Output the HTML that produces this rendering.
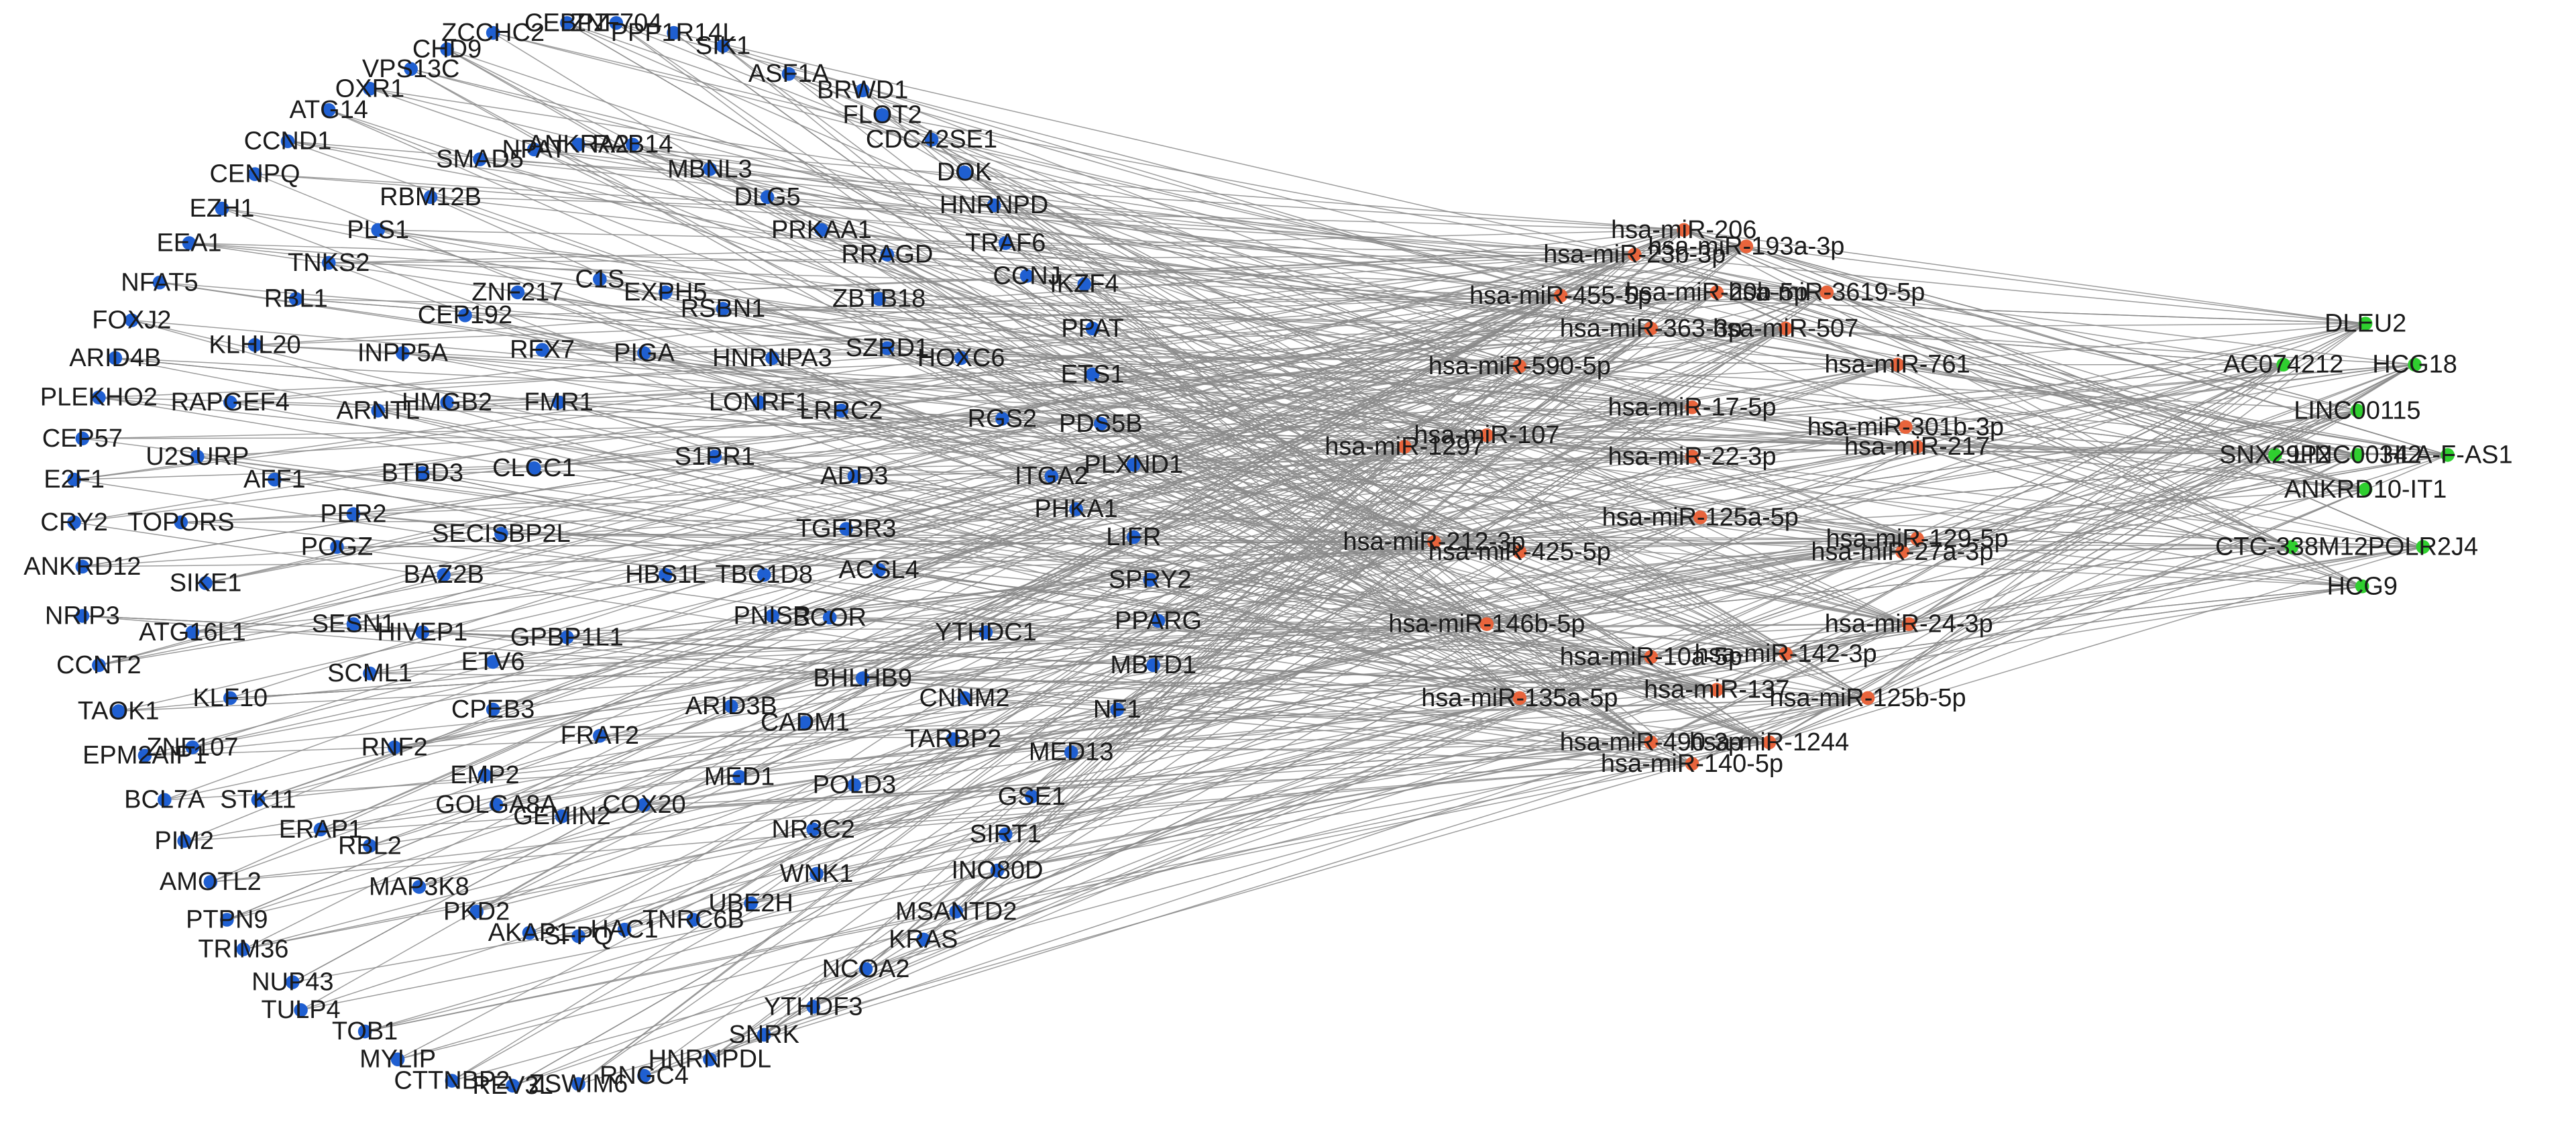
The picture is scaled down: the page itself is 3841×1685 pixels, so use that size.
<!DOCTYPE html>
<html><head><meta charset="utf-8"><style>
html,body{margin:0;padding:0;background:#fff;}
svg{display:block}
text{font-family:"Liberation Sans",Arial,sans-serif;font-size:15.5px;fill:#1a1a1a;text-anchor:middle;dominant-baseline:central}
</style></head><body>
<svg id="s" width="3841" height="1685" viewBox="0 0 1568 688" xmlns="http://www.w3.org/2000/svg">
<g id="edges" stroke="#8a8a8a" stroke-width="0.6" stroke-opacity="0.85" fill="none"></g>
<g id="nodes"></g>
</svg>
<script>
var genes=[["ZCCHC2",300,20],["CEBPZ",345,14],["ZNF704",375,14],["PPP1R14L",410,20],["SIK1",440,28],["CHD9",272,30],["VPS13C",250,42],["OXR1",225,54],["ATG14",200,67],["CCND1",175,86],["CENPQ",155,106],["EZH1",135,127],["EEA1",115,148],["NFAT5",97,172],["FOXJ2",80,195],["ARID4B",70,218],["PLEKHO2",60,242],["CEP57",50,267],["E2F1",45,292],["CRY2",45,318],["ANKRD12",50,345],["NRIP3",50,375],["CCNT2",60,405],["TAOK1",72,433],["EPM2AIP1",88,460],["BCL7A",100,487],["PIM2",112,512],["AMOTL2",128,537],["PTPN9",138,560],["TRIM36",148,578],["NUP43",178,598],["TULP4",183,615],["TOB1",222,628],["MYLIP",242,645],["CTTNBP2",275,658],["REV3L",312,661],["ZSWIM6",352,660],["RNGC4",392,655],["HNRNPDL",432,645],["SNRK",465,630],["YTHDF3",495,613],["NCOA2",527,590],["KRAS",562,572],["MSANTD2",582,555],["INO80D",607,530],["SIRT1",612,508],["GSE1",628,485],["MED13",652,458],["NF1",680,432],["MBTD1",702,405],["PPARG",705,378],["SPRY2",700,353],["LIFR",690,327],["PHKA1",655,310],["PLXND1",690,283],["ITGA2",640,290],["PDS5B",670,258],["RGS2",610,255],["ETS1",665,228],["PPAT",665,200],["HOXC6",585,218],["IKZF4",660,173],["CCNJ",625,168],["TRAF6",612,148],["HNRNPD",605,125],["DOK",587,105],["CDC42SE1",567,85],["FLOT2",537,70],["BRWD1",525,55],["ASF1A",480,45],
["SMAD5",292,97],["NPAT",325,91],["ANKRA2",352,88],["RAB14",385,88],["MBNL3",432,103],["DLG5",467,120],["PRKAA1",500,140],["RRAGD",540,155],["ZBTB18",535,182],["SZRD1",540,212],["LONRF1",462,245],["LRRC2",512,250],["HNRNPA3",470,218],["PIGA",392,215],["RFX7",330,213],["RSBN1",440,188],["EXPH5",405,178],["C1S",365,170],["ZNF217",315,178],["CEP192",283,192],["INPP5A",245,215],["KLHL20",155,210],["RBL1",180,182],["TNKS2",200,160],["PLS1",230,140],["RBM12B",262,120],["RAPGEF4",140,245],["ARNTL",230,250],["HMGB2",272,245],["FMR1",340,245],["U2SURP",120,278],["AFF1",167,292],["BTBD3",257,288],["CLCC1",325,285],["S1PR1",435,278],["ADD3",520,290],["TOPORS",110,318],["PER2",215,313],["POGZ",205,333],["SECISBP2L",305,325],["TGFBR3",515,322],["ACSL4",535,347],["SIKE1",125,355],["BAZ2B",270,350],["HBS1L",405,350],["TBC1D8",465,350],["PNISR",470,375],["BCOR",505,376],["YTHDC1",600,385],["SESN1",215,380],["HIVEP1",257,385],["GPBP1L1",345,388],["ETV6",300,403],["ATG16L1",117,385],["KLF10",140,425],["SCML1",225,410],["BHLHB9",525,413],["CNNM2",587,425],["ARID3B",445,430],["CADM1",490,440],["CPEB3",300,432],["ZNF107",117,455],["RNF2",240,455],["FRAT2",365,448],["TARBP2",580,450],["EMP2",295,472],["MED1",450,473],["STK11",157,487],["GOLGA8A",302,490],["GEMIN2",342,497],["COX20",392,490],["POLD3",520,478],["ERAP1",195,505],["RBL2",225,515],["NR3C2",495,505],["WNK1",497,532],["MAP3K8",255,540],["PKD2",290,555],["AKAP1",322,568],["SFPQ",352,570],["HAC1",380,566],["TNRC6B",422,560],["UBE2H",457,550]];
var mirs=[["hsa-miR-206",1025,140],["hsa-miR-23b-3p",995,155],["hsa-miR-193a-3p",1063,150],["hsa-miR-455-5p",950,180],["hsa-miR-20b-5p",1045,178],["hsa-miR-3619-5p",1112,178],["hsa-miR-363-3p",1005,200],["hsa-miR-507",1087,200],["hsa-miR-761",1155,222],["hsa-miR-590-5p",925,223],["hsa-miR-17-5p",1030,248],["hsa-miR-301b-3p",1160,260],["hsa-miR-107",905,265],["hsa-miR-1297",855,272],["hsa-miR-22-3p",1030,278],["hsa-miR-217",1167,272],["hsa-miR-125a-5p",1035,315],["hsa-miR-212-3p",873,330],["hsa-miR-425-5p",925,336],["hsa-miR-129-5p",1167,328],["hsa-miR-27a-3p",1158,336],["hsa-miR-146b-5p",905,380],["hsa-miR-24-3p",1162,380],["hsa-miR-10a-5p",1005,400],["hsa-miR-142-3p",1087,398],["hsa-miR-135a-5p",925,425],["hsa-miR-137",1045,420],["hsa-miR-125b-5p",1137,425],["hsa-miR-490-3p",1005,452],["hsa-miR-1244",1077,452],["hsa-miR-140-5p",1030,465]];
var lnc=[["DLEU2",1440,197],["AC074212",1390,222],["HCG18",1470,222],["LINC00115",1435,250],["SNX29P2",1385,277],["LINC00342",1435,277],["HLA-F-AS1",1490,277],["ANKRD10-IT1",1440,298],["CTC-338M12",1395,333],["POLR2J4",1475,333],["HCG9",1438,357]];
var seed=7;function r(){seed=(seed*16807)%2147483647;return seed/2147483647;}
var E=document.getElementById("edges"),N=document.getElementById("nodes"),ns="http://www.w3.org/2000/svg";
function line(a,b){var l=document.createElementNS(ns,"line");l.setAttribute("x1",a[1]);l.setAttribute("y1",a[2]);l.setAttribute("x2",b[1]);l.setAttribute("y2",b[2]);E.appendChild(l);}
genes.forEach(function(g){var k=3+Math.floor(r()*2);for(var i=0;i<k;i++)line(g,mirs[Math.floor(r()*mirs.length)]);});
lnc.forEach(function(g){for(var i=0;i<16;i++)line(g,mirs[Math.floor(r()*mirs.length)]);});
function node(list,col,rad){list.forEach(function(g){var c=document.createElementNS(ns,"circle");c.setAttribute("cx",g[1]);c.setAttribute("cy",g[2]);c.setAttribute("r",rad);c.setAttribute("fill",col);N.appendChild(c);});
list.forEach(function(g){var t=document.createElementNS(ns,"text");t.setAttribute("x",g[1]);t.setAttribute("y",g[2]);t.textContent=g[0];N.appendChild(t);});}
node(genes,"#1f5fd1",4.2);node(mirs,"#e8643c",4.2);node(lnc,"#2fcf2f",4.2);
</script>
</body></html>
